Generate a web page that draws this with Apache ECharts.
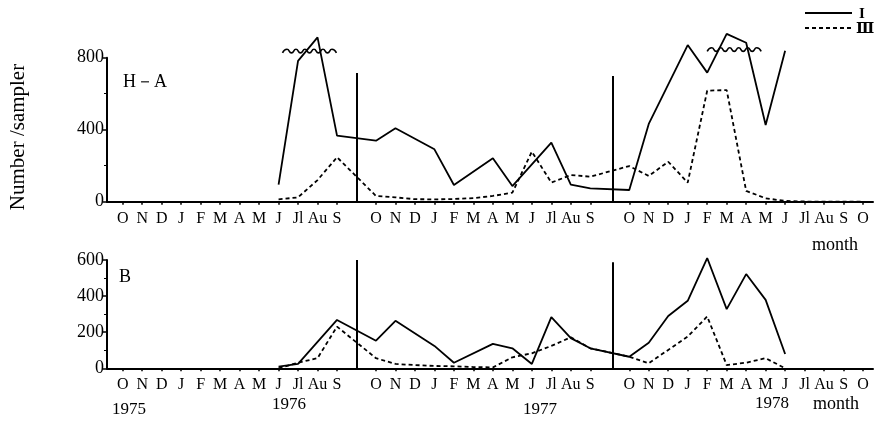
<!DOCTYPE html>
<html><head><meta charset="utf-8">
<script src="https://cdn.jsdelivr.net/npm/echarts@6/dist/echarts.min.js"></script>
<style>html,body{margin:0;padding:0;background:#fff}#c{width:875px;height:422px}</style>
</head><body><div id="c"></div>
<script>
// month slots (blank slots = gaps at the vertical separator lines)
const monthLabels = ['O','N','D','J','F','M','A','M','J','Jl','Au','S','',
                     'O','N','D','J','F','M','A','M','J','Jl','Au','S','',
                     'O','N','D','J','F','M','A','M','J','Jl','Au','S','O'];
const yearLabels = ['1975','1976','1977','1978'];
const seriesNames = ['I','Ⅲ'];
// Panel H-A, series I (solid)
const haI = [null,null,null,null,null,null,null,null,95,782,913,367,null,
             339,408,null,291,93,null,241,87,null,328,95,74,null,
             65,432,null,870,717,932,883,426,839,null,null,null,null];
// Panel H-A, series III (dashed)
const haIII = [null,null,null,null,null,null,null,null,13,24,120,247,null,
               32,24,14,13,15,20,32,50,278,106,148,139,null,
               198,143,222,106,617,620,60,19,4,1,0,0,0];
// Panel B, series I (solid)
const bI = [null,null,null,null,null,null,null,null,9,24,null,268,null,
            153,263,null,124,31,null,135,111,24,283,167,111,null,
            64,142,290,374,611,328,522,379,79,null,null,null,null];
// Panel B, series III (dashed)
const bIII = [null,null,null,null,null,null,null,null,0,31,56,231,null,
              56,24,18,13,11,7,5,61,83,124,172,111,null,
              64,28,102,176,287,18,31,56,0,null,null,null,null];
const separators = [12, 25.15];
const sepTopHA = [715, 698];
const sepTopB = [600, 587];

const F = 'Liberation Serif, DejaVu Serif, serif';
const tickIdx = monthLabels.map((m,i)=>m? i : null).filter(v=>v!==null);
const pairs = arr => arr.map((v,i)=>v===null?null:[i,v]).filter(p=>p);

function xAxisCfg(gi, margin){
  return {type:'value', gridIndex:gi, min:-0.806, max:38.51,
    axisLine:{show:true, onZero:false, lineStyle:{color:'#000', width:2}},
    axisTick:{show:true, length:3, customValues:tickIdx, lineStyle:{color:'#000', width:1.5}},
    axisLabel:{show:true, customValues:tickIdx, formatter:v=>monthLabels[Math.round(v)]||'', margin:margin,
      color:'#000', fontFamily:F, fontSize:16},
    splitLine:{show:false}};
}
function yAxisCfg(gi, max, interval){
  return {type:'value', gridIndex:gi, min:0, max:max, interval:interval,
    axisLine:{show:true, onZero:false, lineStyle:{color:'#000', width:2}},
    axisTick:{show:true, length:4, lineStyle:{color:'#000', width:1.5}},
    minorTick:{show:true, splitNumber:2, length:3, lineStyle:{color:'#000', width:1}},
    axisLabel:{color:'#000', fontFamily:F, fontSize:18, margin:3},
    splitLine:{show:false}};
}
function sepLines(tops){
  return {silent:true, symbol:['none','none'], label:{show:false},
    lineStyle:{color:'#000', width:2, type:'solid'},
    data: separators.map((x,k)=>[{coord:[x,0]},{coord:[x,tops[k]]}])};
}
const solid = {color:'#000', width:1.8, type:'solid'};
const dashed = {color:'#000', width:1.8, type:[4,3]};

const chart = echarts.init(document.getElementById('c'));
chart.setOption({
  backgroundColor:'#fff',
  animation:false,
  grid:[{left:107, top:57.7, width:766, height:144},
        {left:107, top:260, width:766, height:108.3}],
  xAxis:[xAxisCfg(0,9), xAxisCfg(1,8.5)],
  yAxis:[yAxisCfg(0,800,400), yAxisCfg(1,600,200)],
  series:[
    {name:seriesNames[0], type:'line', xAxisIndex:0, yAxisIndex:0, data:pairs(haI), symbol:'none', clip:false, lineStyle:solid, itemStyle:{color:'#000'}, markLine:sepLines(sepTopHA)},
    {name:seriesNames[1], type:'line', xAxisIndex:0, yAxisIndex:0, data:pairs(haIII), symbol:'none', clip:false, lineStyle:dashed, itemStyle:{color:'#000'}},
    {name:seriesNames[0], type:'line', xAxisIndex:1, yAxisIndex:1, data:pairs(bI), symbol:'none', clip:false, lineStyle:solid, itemStyle:{color:'#000'}, markLine:sepLines(sepTopB)},
    {name:seriesNames[1], type:'line', xAxisIndex:1, yAxisIndex:1, data:pairs(bIII), symbol:'none', clip:false, lineStyle:dashed, itemStyle:{color:'#000'}}
  ]
});

// wavy break marks on top panel
function wave(x0, x1, yv){
  const p0 = chart.convertToPixel({gridIndex:0}, [x0, yv]);
  const p1 = chart.convertToPixel({gridIndex:0}, [x1, 0]);
  const pts = [];
  for (let x = p0[0], k = 0; x <= p1[0]; x += 4.5, k++) pts.push([x, p0[1] + (k%2 ? -1.8 : 1.8)]);
  return {type:'polyline', shape:{points:pts, smooth:0.6}, style:{stroke:'#000', lineWidth:1.6, fill:null}, silent:true};
}
const T = (text, x, y, extra) => Object.assign({type:'text', x:x, y:y,
  style:Object.assign({text:text, fill:'#000', font:'17px ' + F, textAlign:'left', textVerticalAlign:'middle'}, extra||{})});
const L = (y, dash) => ({type:'line', shape:{x1:805, y1:y, x2:852, y2:y}, silent:true,
  style:{stroke:'#000', lineWidth:1.8, lineDash:dash}});
chart.setOption({graphic:[
  wave(8.2, 11.1, 837),
  wave(30.0, 32.9, 845),
  L(13, null), L(28, [4,3]),
  T(seriesNames[0], 859, 14, {font:'bold 15px ' + F}),
  T(seriesNames[1], 856, 29, {font:'bold 15px ' + F}),
  Object.assign(T('Number /sampler', 18, 137, {textAlign:'center', font:'21px ' + F}), {rotation:Math.PI/2}),
  T('H－A', 123, 82, {font:'18px ' + F}),
  T('B', 119, 277, {font:'18px ' + F}),
  T('month', 812, 245, {font:'18px ' + F}),
  T('month', 813, 404, {font:'18px ' + F}),
  T(yearLabels[0], 112, 410),
  T(yearLabels[1], 272, 405),
  T(yearLabels[2], 523, 410),
  T(yearLabels[3], 755, 404)
]});
</script>
</body></html>
